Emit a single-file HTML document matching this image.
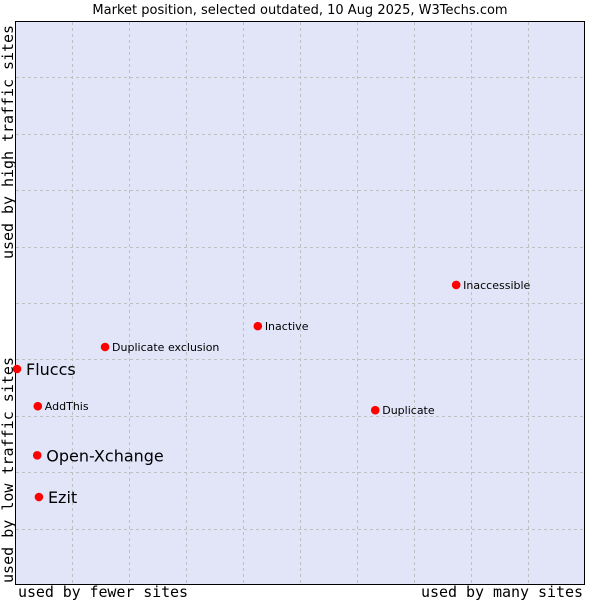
<!DOCTYPE html>
<html><head><meta charset="utf-8"><style>
body{margin:0;background:#fff;width:600px;height:600px;overflow:hidden}
svg{display:block;font-family:"DejaVu Sans","Liberation Sans",sans-serif}
</style></head><body>
<svg id="chart" width="600" height="600">
<text x="300" y="14" text-anchor="middle" font-size="13" fill="#000">Market position, selected outdated, 10 Aug 2025, W3Techs.com</text>
<rect x="15.5" y="21.5" width="569" height="563" fill="#e2e4f8" stroke="#000" stroke-width="1"/>
<g id="grid"></g>
<g id="points"></g>
<text x="103" y="597" text-anchor="middle" font-family="'DejaVu Sans Mono','Liberation Mono',monospace" font-size="15" textLength="170">used by fewer sites</text>
<text x="502" y="597" text-anchor="middle" font-family="'DejaVu Sans Mono','Liberation Mono',monospace" font-size="15" textLength="162">used by many sites</text>
<text transform="translate(13,470) rotate(-90)" text-anchor="middle" font-family="'DejaVu Sans Mono','Liberation Mono',monospace" font-size="15" textLength="226">used by low traffic sites</text>
<text transform="translate(13,142) rotate(-90)" text-anchor="middle" font-family="'DejaVu Sans Mono','Liberation Mono',monospace" font-size="15" textLength="234">used by high traffic sites</text>
</svg>
<script>
const names = ["Fluccs","AddThis","Open-Xchange","Ezit","Duplicate exclusion","Inactive","Duplicate","Inaccessible"];
const xValues = [0.35,4.0,3.9,4.2,15.8,42.6,63.2,77.4];
const yValues = [38.3,31.7,23.0,15.6,42.2,45.9,31.0,53.2];
const bigLabel = [true,false,true,true,false,false,false,false];
const NS="http://www.w3.org/2000/svg";
const X0=15,X1=585,Y0=585,Y1=21;
const sx=v=>X0+v/100*(X1-X0);
const sy=v=>Y0-v/100*(Y0-Y1);
const grid=document.getElementById('grid');
for(let i=1;i<10;i++){
  const v=document.createElementNS(NS,'line');
  
  
  const x=Math.round(sx(i*10))+0.5;
  v.setAttribute('x1',x);v.setAttribute('x2',x);v.setAttribute('y1',22);v.setAttribute('y2',584);
  v.setAttribute('stroke','#c0c0c0');v.setAttribute('stroke-dasharray','3,3');
  grid.appendChild(v);
  const h=document.createElementNS(NS,'line');
  
  
  const y=Math.round(sy(i*10))+0.5;
  h.setAttribute('x1',16);h.setAttribute('x2',584);h.setAttribute('y1',y);h.setAttribute('y2',y);
  h.setAttribute('stroke','#c0c0c0');h.setAttribute('stroke-dasharray','3,3');
  grid.appendChild(h);
}
const pts=document.getElementById('points');
names.forEach((n,i)=>{
  const cx=sx(xValues[i]),cy=sy(yValues[i]);
  const c=document.createElementNS(NS,'circle');
  
  
  c.setAttribute('cx',cx);c.setAttribute('cy',cy);c.setAttribute('r',4.3);c.setAttribute('fill','#ff0000');
  pts.appendChild(c);
  const t=document.createElementNS(NS,'text');
  
  
  t.setAttribute('x',cx+(bigLabel[i]?9:7));
  t.setAttribute('y',cy+(bigLabel[i]?6:4));
  t.setAttribute('font-size',bigLabel[i]?16:11);
  t.textContent=n;
  pts.appendChild(t);
});
</script>
</body></html>
